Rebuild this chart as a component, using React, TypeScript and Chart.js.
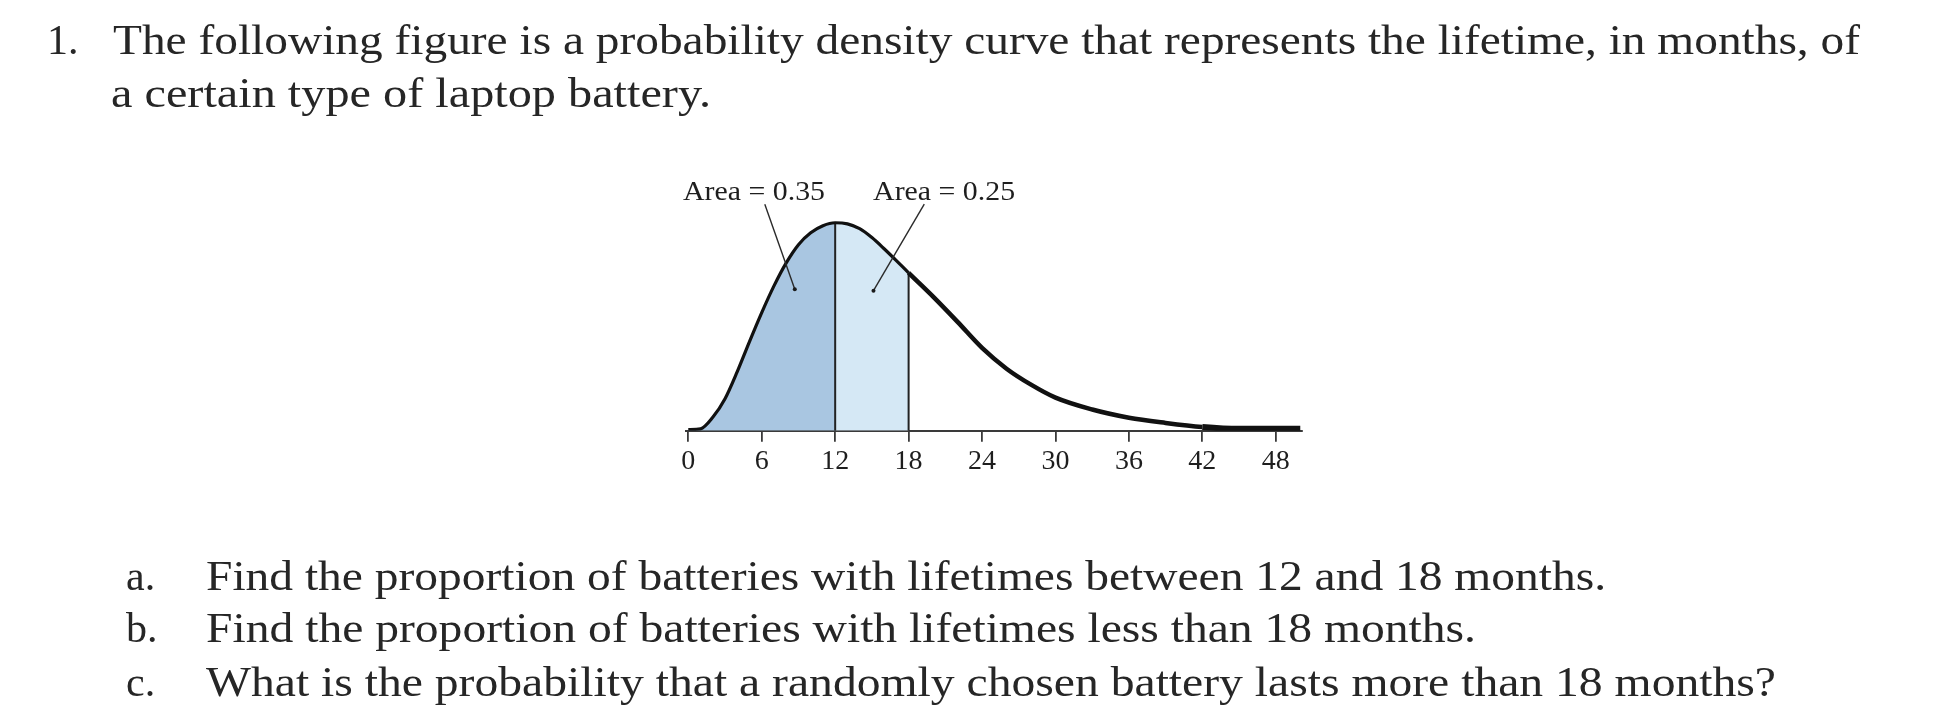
import React, { useEffect, useLayoutEffect, useRef } from "react";
import { Chart, registerables } from "chart.js";

Chart.register(...registerables);

// ---- data ----
const months = [0, 1, 2, 3, 4, 5, 6, 7, 8, 9, 10, 11, 12, 13, 14, 15, 16, 17, 18, 20, 22, 24, 26, 28, 30, 33, 36, 39, 42, 45, 48, 50];
const density = [0.0003, 0.0005, 0.0036, 0.0086, 0.0159, 0.024, 0.0318, 0.039, 0.0452, 0.0501, 0.0533, 0.0552, 0.056, 0.0557, 0.0544, 0.052, 0.049, 0.0458, 0.0425, 0.0361, 0.0293, 0.0223, 0.0167, 0.0124, 0.0089, 0.0057, 0.0035, 0.0021, 0.001, 0.0005, 0.0005, 0.0005];
const tickValues = [0, 6, 12, 18, 24, 30, 36, 42, 48];
const tickLabels = ["0", "6", "12", "18", "24", "30", "36", "42", "48"];
const shadeBounds = [0, 12, 18];
const shadeColors = ["#a9c6e1", "#d5e8f5"];
const areaLabels = ["Area = 0.35", "Area = 0.25"];
const areaLabelX = [5.37, 20.9];
const areaLabelY = [0.0621, 0.0621];
const leaderStartX = [6.25, 19.28];
const leaderStartY = [0.061, 0.061];
const leaderEndX = [8.7, 15.13];
const leaderEndY = [0.0381, 0.0377];

const textLines = [
  { text: "1.", left: 47, baseline: 54, width: 0 },
  { text: "The following figure is a probability density curve that represents the lifetime, in months, of", left: 113, baseline: 54, width: 1747 },
  { text: "a certain type of laptop battery.", left: 111, baseline: 107, width: 600 },
  { text: "a.", left: 126, baseline: 590, width: 0 },
  { text: "Find the proportion of batteries with lifetimes between 12 and 18 months.", left: 206, baseline: 590, width: 1400 },
  { text: "b.", left: 126, baseline: 642, width: 0 },
  { text: "Find the proportion of batteries with lifetimes less than 18 months.", left: 206, baseline: 642, width: 1270 },
  { text: "c.", left: 126, baseline: 696, width: 0 },
  { text: "What is the probability that a randomly chosen battery lasts more than 18 months?", left: 206, baseline: 696, width: 1570 },
];

const FONT = '"Liberation Serif", "Times New Roman", serif';
const TEXT_SIZE = 42;

function FitLine({ text, left, baseline, width }: { text: string; left: number; baseline: number; width: number }) {
  const ref = useRef<HTMLSpanElement>(null);
  useLayoutEffect(() => {
    const fit = () => {
      const el = ref.current;
      if (!el || !width) return;
      el.style.transform = "none";
      const w = el.getBoundingClientRect().width;
      if (w > 0) el.style.transform = `scaleX(${width / w})`;
    };
    fit();
    (document as any).fonts?.ready?.then(fit);
  }, [text, width]);
  return (
    <span
      ref={ref}
      style={{
        position: "absolute",
        left,
        top: baseline - 0.8375 * TEXT_SIZE,
        fontSize: TEXT_SIZE,
        lineHeight: `${TEXT_SIZE}px`,
        fontFamily: FONT,
        color: "#262626",
        whiteSpace: "nowrap",
        transformOrigin: "0 0",
      }}
    >
      {text}
    </span>
  );
}

const pts = (lo: number, hi: number) =>
  months.map((m, i) => ({ x: m, y: density[i] })).filter((p) => p.x >= lo && p.x <= hi);
const valueAt = (m: number) => density[months.indexOf(m)];

const annotationPlugin = {
  id: "areaAnnotations",
  afterDatasetsDraw(chart: any) {
    const { ctx, scales } = chart;
    const xs = scales.x;
    const ys = scales.y;
    ctx.save();
    for (let i = 0; i < areaLabels.length; i++) {
      const x0 = xs.getPixelForValue(leaderStartX[i]);
      const y0 = ys.getPixelForValue(leaderStartY[i]);
      const x1 = xs.getPixelForValue(leaderEndX[i]);
      const y1 = ys.getPixelForValue(leaderEndY[i]);
      ctx.strokeStyle = "#2a2a2a";
      ctx.lineWidth = 1.4;
      ctx.beginPath();
      ctx.moveTo(x0, y0);
      ctx.lineTo(x1, y1);
      ctx.stroke();
      ctx.fillStyle = "#1a1a1a";
      ctx.beginPath();
      ctx.arc(x1, y1, 2, 0, Math.PI * 2);
      ctx.fill();
      ctx.font = `28px ${FONT}`;
      ctx.textBaseline = "alphabetic";
      ctx.textAlign = "left";
      const w = ctx.measureText(areaLabels[i]).width;
      const target = 142;
      const cx = xs.getPixelForValue(areaLabelX[i]);
      const by = ys.getPixelForValue(areaLabelY[i]);
      ctx.save();
      ctx.translate(cx - target / 2, by);
      ctx.scale(target / w, 1);
      ctx.fillStyle = "#1e1e1e";
      ctx.fillText(areaLabels[i], 0, 0);
      ctx.restore();
    }
    ctx.restore();
  },
};

function DensityChart() {
  const ref = useRef<HTMLCanvasElement>(null);
  useEffect(() => {
    if (!ref.current) return;
    const curve = {
      data: pts(0, 50),
      borderColor: "#111",
      borderWidth: 3.2,
      pointRadius: 0,
      fill: false,
      cubicInterpolationMode: "monotone" as const,
      segment: {
        borderWidth: (c: any) => (c.p0.parsed.x >= 42 ? 6 : c.p0.parsed.x >= 18 ? 4.5 : 3.2),
      },
      order: 0,
    };
    const verticals = [shadeBounds[1], shadeBounds[2]].map((m, i) => ({
      data: [
        { x: m, y: 0 },
        { x: m, y: valueAt(m) },
      ],
      borderColor: "#222",
      borderWidth: 2,
      pointRadius: 0,
      fill: false,
      tension: 0,
      order: 1 + i,
    }));
    const fills = shadeColors.map((c, i) => ({
      data: pts(shadeBounds[i], shadeBounds[i + 1]),
      borderColor: "rgba(0,0,0,0)",
      borderWidth: 0,
      backgroundColor: c,
      pointRadius: 0,
      fill: "origin",
      cubicInterpolationMode: "monotone" as const,
      order: 5 + i,
    }));
    const chart = new Chart(ref.current, {
      type: "line",
      data: { datasets: [curve, ...verticals, ...fills] as any },
      options: {
        animation: false,
        responsive: false,
        maintainAspectRatio: false,
        layout: { padding: { left: 685.85, right: 642.5, top: 133.6, bottom: 231.3 } },
        plugins: { legend: { display: false }, tooltip: { enabled: false } },
        scales: {
          x: {
            type: "linear",
            min: -0.2,
            max: 50.1,
            afterBuildTicks: (s: any) => {
              s.ticks = tickValues.map((v) => ({ value: v }));
            },
            afterFit: (s: any) => {
              s.height = 60;
            },
            border: { display: true, color: "#3a3a3a", width: 2 },
            grid: { drawOnChartArea: false, drawTicks: true, tickLength: 11, color: "#3a3a3a", lineWidth: 1.8 },
            ticks: {
              autoSkip: false,
              maxRotation: 0,
              padding: 3,
              color: "#1e1e1e",
              font: { family: FONT, size: 28 },
              callback: (_v: any, i: number) => tickLabels[i],
            },
          },
          y: { display: false, min: 0, max: 0.08 },
        },
      },
      plugins: [annotationPlugin],
    });
    return () => chart.destroy();
  }, []);
  return <canvas ref={ref} width={1944} height={722} style={{ position: "absolute", left: 0, top: 0, width: 1944, height: 722 }} />;
}

export default function App() {
  return (
    <div style={{ position: "absolute", left: 0, top: 0, width: 1944, height: 722, overflow: "hidden", background: "#fff" }}>
      <DensityChart />
      {textLines.map((l, i) => (
        <FitLine key={i} text={l.text} left={l.left} baseline={l.baseline} width={l.width} />
      ))}
    </div>
  );
}
